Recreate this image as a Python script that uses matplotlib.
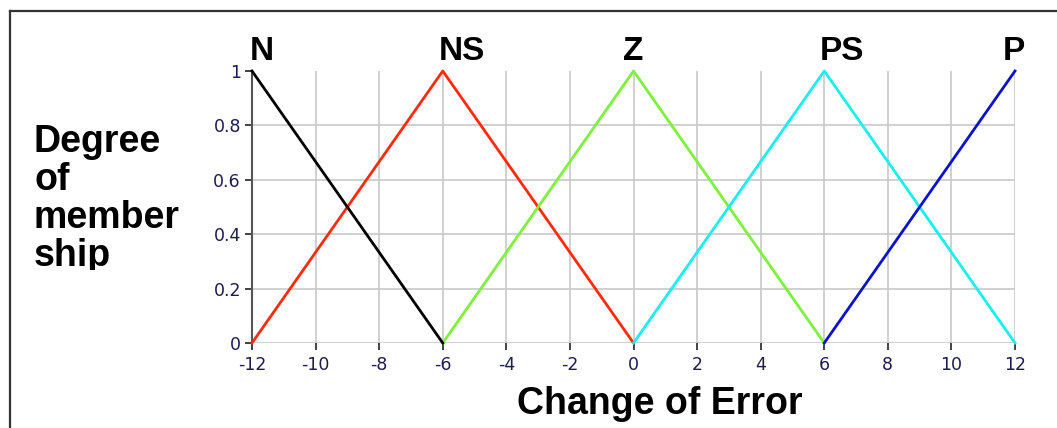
import matplotlib
matplotlib.use("Agg")
import matplotlib.pyplot as plt
from matplotlib.lines import Line2D
from matplotlib.patches import Rectangle

# Data: membership function vertices
n_x = [-12, -6]
n_y = [1, 0]
ns_x = [-12, -6, 0]
ns_y = [0, 1, 0]
z_x = [-6, 0, 6]
z_y = [0, 1, 0]
ps_x = [0, 6, 12]
ps_y = [0, 1, 0]
p_x = [6, 12]
p_y = [0, 1]
set_names = ["N", "NS", "Z", "PS", "P"]
peak_x = [-12, -6, 0, 6, 12]
x_ticks = [-12, -10, -8, -6, -4, -2, 0, 2, 4, 6, 8, 10, 12]
y_ticks = [0, 0.2, 0.4, 0.6, 0.8, 1]
y_tick_labels = ["0", "0.2", "0.4", "0.6", "0.8", "1"]

W, H = 1057, 428
fig = plt.figure(figsize=(W / 100, H / 100), dpi=100)
fig.patch.set_facecolor("white")

# outer frame (only left and top visible)
fig.add_artist(Line2D([10 / W, 10 / W], [0, 1 - 11 / H], color="#333333", lw=1.6, transform=fig.transFigure))
fig.add_artist(Line2D([10 / W, 1.0], [1 - 11 / H, 1 - 11 / H], color="#333333", lw=1.6, transform=fig.transFigure))

ax = fig.add_axes([252 / W, (H - 343) / H, 763 / W, 272 / H])
ax.set_xlim(-12, 12)
ax.set_ylim(0, 1)

ax.plot(ns_x, ns_y, color="#ff2a0a", lw=2.0, zorder=3, clip_on=False)
ax.plot(z_x, z_y, color="#7cf23c", lw=2.0, zorder=3, clip_on=False)
ax.plot(ps_x, ps_y, color="#18f0f0", lw=2.0, zorder=3, clip_on=False)
ax.plot(p_x, p_y, color="#0a12cc", lw=2.0, zorder=3, clip_on=False)
ax.plot(n_x, n_y, color="#000000", lw=2.0, zorder=4, clip_on=False)

ax.set_xticks(x_ticks)
ax.set_xticklabels([str(v) for v in x_ticks])
ax.set_yticks(y_ticks)
ax.set_yticklabels(y_tick_labels)
ax.grid(True, color="#c8c8c8", lw=1.2)
ax.set_axisbelow(True)
ax.get_ygridlines()[-1].set_visible(False)
for s in ["top", "right", "bottom"]:
    ax.spines[s].set_visible(False)
ax.spines["left"].set_color("#555555")
ax.spines["left"].set_linewidth(1.5)
ax.tick_params(axis="both", colors="#222222", labelcolor="#1c1c50", labelsize=12.5,
               length=5, width=1.2, direction="out")
ax.tick_params(axis="x", pad=4)
ax.tick_params(axis="y", pad=3)

# set labels above peaks
label_offsets = [10, 19, 0, 18, -1]
for name, px, off in zip(set_names, peak_x, label_offsets):
    ax.annotate(name, xy=(px, 1), xytext=(off, 4), textcoords="offset pixels",
                ha="center", va="bottom", fontsize=24, fontweight="bold",
                family="Liberation Sans", color="black", annotation_clip=False)

fig.text(660 / W, 1 - 404 / H, "Change of Error", ha="center", va="center",
         fontsize=27, fontweight="bold", family="Liberation Sans")

t = fig.text(34 / W, 1 - 124 / H, "Degree\nof\nmember\nship", ha="left", va="top",
             fontsize=27, fontweight="bold", family="Liberation Sans", linespacing=1.07)
clip = Rectangle((0, 1 - 270 / H), 1, 270 / H, transform=fig.transFigure)
t.set_clip_path(clip)

fig.savefig("out.png", dpi=100)
